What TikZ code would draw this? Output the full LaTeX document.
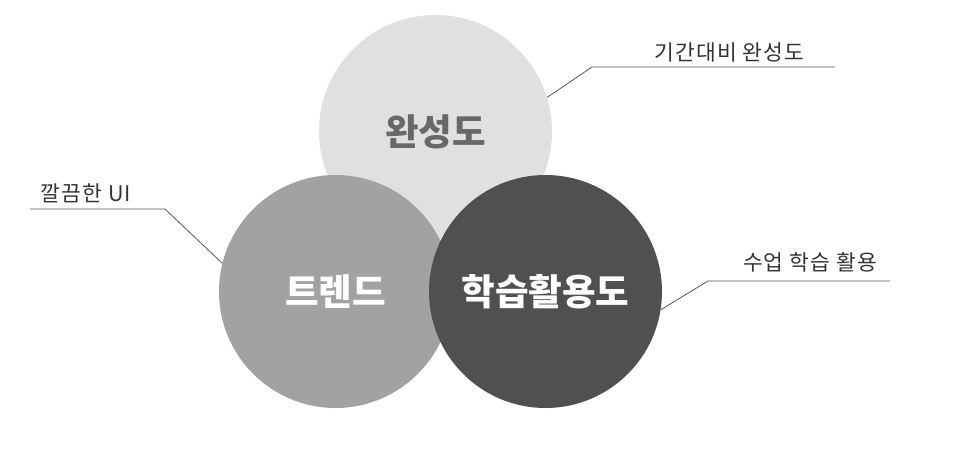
\documentclass[tikz,border=0pt]{standalone}
\usepackage{fontspec}
\newfontfamily\krfont{Noto Sans CJK KR}
\newfontfamily\krtag[LetterSpace=5]{Noto Sans CJK KR}
\usetikzlibrary{positioning, calc}

\definecolor{topgray}{HTML}{E0E0E0}
\definecolor{midgray}{HTML}{A3A2A1}
\definecolor{darkgray}{HTML}{505050}
\definecolor{toptext}{HTML}{6A6767}
\definecolor{leadgray}{HTML}{555555}

\begin{document}
\begin{tikzpicture}[
  x=1pt, y=-1pt,
  % ---- Style definitions ----
  bubble/.style={
    circle, minimum size=233pt, inner sep=0pt,
    font=\krfont\bfseries\fontsize{36.5}{40}\selectfont
  },
  tag/.style={
    font=\krtag\fontsize{21.5}{24}\selectfont, text=black!80, inner sep=0pt
  },
  lead/.style={
    draw=leadgray, line width=0.8pt
  },
]
\useasboundingbox (0,0) rectangle (964,458);

% ---- Circles (back to front) ----
\node[bubble, fill=topgray, text=toptext] (done) at (435.5,131.5) {완성도};
\node[bubble, fill=midgray, text=white] (trend) at (335.5,291.5) {트렌드};
\node[bubble, fill=darkgray, text=white] (use) at (545.5,291.5) {학습활용도};

% ---- Labels ----
\node[tag] (doneTag) at (729.5,52) {기간대비 완성도};
\node[tag] (trendTag) at (86,193) {깔끔한 UI};
\node[tag] (useTag) at (810,262) {수업 학습 활용};

% ---- Leader lines ----
\coordinate (doneBend) at (592,67);
\coordinate (doneEnd) at (835,67);
\coordinate (trendBend) at (165,209);
\coordinate (trendEnd) at (30,209);
\coordinate (useBend) at (708,281);
\coordinate (useEnd) at (890,281);

\draw[lead] (done.17) -- (doneBend) -- (doneEnd);
\draw[lead] (trend.166) -- (trendBend) -- (trendEnd);
\draw[lead] (use.-9.5) -- (useBend) -- (useEnd);

\end{tikzpicture}
\end{document}
